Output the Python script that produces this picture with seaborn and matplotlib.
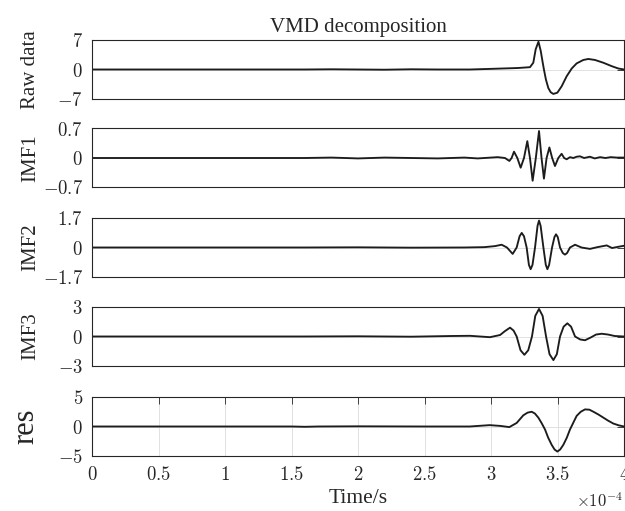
import numpy as np
import pandas as pd
import matplotlib
matplotlib.use("Agg")
import matplotlib.pyplot as plt
import seaborn as sns

# ---------------- data (time in units of 1e-4 s) ----------------
t_raw = [0, 1.6, 1.8, 2.0, 2.2, 2.4, 2.6, 2.84, 3.0, 3.1, 3.2, 3.293, 3.318, 3.336,
         3.357, 3.374, 3.389, 3.398, 3.413, 3.431, 3.449, 3.469, 3.499, 3.531, 3.569,
         3.607, 3.644, 3.694, 3.732, 3.782, 3.845, 3.907, 3.957, 4.0]
v_raw = [0, 0, 0.05, 0.0, -0.05, 0.05, 0.0, 0.0, 0.15, 0.25, 0.35, 0.55, 1.6, 4.8,
         6.6, 4.4, 1.6, 0.0, -2.4, -4.4, -5.4, -5.8, -5.5, -4.0, -1.6,
         0.24, 1.45, 2.26, 2.5, 2.26, 1.6, 0.8, 0.24, 0.0]

t_imf1 = [0, 1.6, 1.8, 2.0, 2.2, 2.4, 2.6, 2.8, 2.9, 3.0, 3.05, 3.105, 3.138, 3.155,
          3.173, 3.198, 3.223, 3.248, 3.273, 3.293, 3.313, 3.337, 3.361, 3.380,
          3.398, 3.418, 3.439, 3.460, 3.481, 3.506, 3.531, 3.55, 3.569, 3.594,
          3.619, 3.644, 3.669, 3.7, 3.744, 3.78, 3.82, 3.86, 3.9, 3.945, 4.0]
v_imf1 = [0, 0, 0.01, -0.01, 0.01, 0, -0.01, 0.01, -0.01, 0.01, 0.02, 0, -0.07, 0.0,
          0.15, 0.0, -0.23, 0.0, 0.40, 0.0, -0.54, 0.0, 0.64, 0.0,
          -0.49, 0.0, 0.25, 0.0, -0.19, 0.0, 0.10, 0.0, -0.03, 0.02,
          0.0, 0.03, 0.04, 0.0, 0.03, -0.01, 0.02, 0.0, 0.02, 0.01, 0.01]

t_imf2 = [0, 1.6, 2.0, 2.4, 2.8, 2.95, 3.03, 3.08, 3.12, 3.163, 3.193, 3.215, 3.231,
          3.248, 3.268, 3.285, 3.298, 3.312, 3.331, 3.35, 3.361, 3.373, 3.394, 3.412,
          3.424, 3.437, 3.459, 3.477, 3.489, 3.502, 3.519, 3.54, 3.556, 3.572, 3.594,
          3.632, 3.68, 3.744, 3.8, 3.87, 3.91, 3.95, 4.0]
v_imf2 = [0, 0, 0.01, -0.01, 0.0, 0.02, 0.08, 0.16, 0.0, -0.37, 0.0, 0.65, 0.84,
          0.65, 0.0, -1.0, -1.25, -1.0, 0.0, 1.25, 1.55, 1.25, 0.0, -1.0,
          -1.25, -1.0, 0.0, 0.6, 0.76, 0.6, 0.0, -0.32, -0.41, -0.32, 0.0,
          0.16, 0.0, -0.08, 0.02, 0.12, -0.03, 0.03, 0.10]

t_imf3 = [0, 1.6, 2.0, 2.4, 2.7, 2.842, 2.992, 3.068, 3.105, 3.143, 3.17, 3.193,
          3.222, 3.251, 3.28, 3.308, 3.333, 3.361, 3.388, 3.414, 3.44, 3.469, 3.495,
          3.519, 3.546, 3.574, 3.602, 3.632, 3.67, 3.707, 3.75, 3.79, 3.832, 3.88,
          3.93, 4.0]
v_imf3 = [0, 0, 0.02, -0.02, 0.05, 0.07, -0.07, 0.15, 0.55, 0.9, 0.6, 0.0,
          -1.4, -1.86, -1.4, 0.0, 2.1, 2.8, 2.1, 0.0, -1.8, -2.4, -1.8,
          0.0, 1.0, 1.34, 1.0, 0.0, -0.3, -0.38, -0.1, 0.2, 0.28, 0.2,
          0.05, 0.0]

t_res = [0, 1.5, 1.6, 1.7, 2.0, 2.5, 2.84, 2.99, 3.07, 3.138, 3.193, 3.243, 3.275,
         3.306, 3.33, 3.356, 3.38, 3.406, 3.43, 3.456, 3.478, 3.499, 3.52, 3.544,
         3.57, 3.594, 3.62, 3.644, 3.675, 3.707, 3.74, 3.77, 3.81, 3.845, 3.88,
         3.92, 3.96, 4.0]
v_res = [0, 0, -0.05, 0, 0.03, 0.0, 0.0, 0.23, 0.1, -0.1, 0.6, 1.9, 2.35,
         2.5, 2.2, 1.5, 0.6, -0.5, -1.9, -3.1, -3.9, -4.25, -3.9, -3.1,
         -1.9, -0.5, 0.7, 1.8, 2.5, 2.9, 2.85, 2.5, 2.0, 1.5, 1.0,
         0.5, 0.2, 0.0]

series_names = ["Raw data", "IMF1", "IMF2", "IMF3", "res"]
series_t = [t_raw, t_imf1, t_imf2, t_imf3, t_res]
series_v = [v_raw, v_imf1, v_imf2, v_imf3, v_res]
y_limits = [7, 0.7, 1.7, 3, 5]
y_ticklabels = [["$-7$", "$0$", "$7$"],
                ["$-0.7$", "$0$", "$0.7$"],
                ["$-1.7$", "$0$", "$1.7$"],
                ["$-3$", "$0$", "$3$"],
                ["$-5$", "$0$", "$5$"]]
x_ticks = [0, 0.5, 1, 1.5, 2, 2.5, 3, 3.5, 4]
x_ticklabels = ["$0$", "$0.5$", "$1$", "$1.5$", "$2$", "$2.5$", "$3$", "$3.5$", "$4$"]

# ---------------- style ----------------
sns.set_theme(style="white")
plt.rcParams["font.family"] = ["Liberation Serif", "DejaVu Serif"]
plt.rcParams["mathtext.fontset"] = "cm"
edge = "#262626"

W, H = 625, 511
fig = plt.figure(figsize=(W / 100, H / 100), dpi=100)
left_px, right_px = 92, 624
tops_px = [40, 128.5, 218, 307, 397]
h_px = 59

label_sizes = [15, 15, 15, 15, 22]

axes = []
for i, name in enumerate(series_names):
    top = tops_px[i]
    ax = fig.add_axes([left_px / W, 1 - (top + h_px) / H,
                       (right_px - left_px) / W, h_px / H])
    axes.append(ax)
    df = pd.DataFrame({"t": np.array(series_t[i]) * 1e-4, "v": series_v[i]})
    sns.lineplot(data=df, x="t", y="v", ax=ax, color="#1c1c1c", linewidth=1.35,
                 estimator=None, sort=False)
    lim = y_limits[i]
    ax.set_xlim(0, 4e-4)
    ax.set_ylim(-lim, lim)
    ax.set_yticks([-lim, 0, lim])
    ax.set_yticklabels(y_ticklabels[i], fontsize=13.5)
    if i < 4:
        ax.set_xticks([])
    else:
        ax.set_xticks(np.array(x_ticks) * 1e-4)
        ax.set_xticklabels(x_ticklabels, fontsize=13.5)
    ax.set_xlabel("")
    ax.set_ylabel("")
    ax.grid(True, color="#dcdcdc", linewidth=0.6)
    ax.set_axisbelow(True)
    ax.tick_params(direction="in", length=5, width=0.6, color=edge,
                   top=True, right=True, labelcolor="#262626", pad=6.5)
    ax.tick_params(axis="x", pad=7)
    for sp in ax.spines.values():
        sp.set_color(edge)
        sp.set_linewidth(0.8)
        sp.set_visible(True)
    ax.text(-(92 - (35 if i < 4 else 33)) / (right_px - left_px), 0.5, name,
            transform=ax.transAxes, rotation=90, rotation_mode="anchor",
            ha="center", va="baseline", fontsize=label_sizes[i], color="#262626")

axes[0].set_title("VMD decomposition", fontsize=15, pad=6, color="#262626")
axes[-1].set_xlabel("Time/s", fontsize=15.5, color="#262626", labelpad=4)
fig.text(623 / W, 1 - 507 / H, r"$\times10^{-4}$", fontsize=12,
         ha="right", va="baseline", color="#262626")

fig.savefig("out.png", dpi=100)
